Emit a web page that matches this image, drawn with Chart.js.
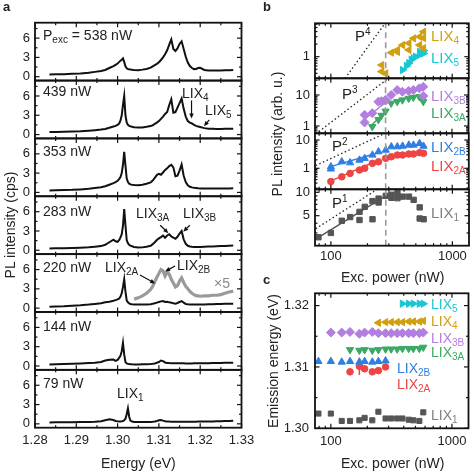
<!DOCTYPE html>
<html>
<head>
<meta charset="utf-8">
<script src="https://cdn.jsdelivr.net/npm/chart.js@4.4.0/dist/chart.umd.min.js"></script>
<style>
    body { margin: 0; background: #fff; }
    #fig { position: relative; width: 474px; height: 474px; overflow: hidden; font-family: "Liberation Sans", Arial, sans-serif; color: #222; }
    #fig canvas { position: absolute; left: 0; top: 0; }
    .t { position: absolute; white-space: nowrap; font-size: 14px; line-height: 14px; }
    .t sub { font-size: 10px; line-height: 0; vertical-align: -3px; }
    .t sup { font-size: 10px; line-height: 0; vertical-align: 6px; }
    .b { font-size: 15px; line-height: 15px; }
    .lbl { font-weight: bold; font-size: 13px; line-height: 13px; }
    .rot { width: 200px; text-align: center; transform: rotate(-90deg); }
</style>
</head>
<body>
<div id="fig">
    <div class="t lbl" style="left:3px;top:0px">a</div>
    <div class="t lbl" style="left:263px;top:0px">b</div>
    <div class="t lbl" style="left:263px;top:273px">c</div>

    <!-- panel a texts -->
    <div class="t" style="left:43px;top:28px">P<sub>exc</sub> = 538 nW</div>
    <div class="t" style="left:43px;top:84px">439 nW</div>
    <div class="t" style="left:43px;top:144px">353 nW</div>
    <div class="t" style="left:43px;top:204px">283 nW</div>
    <div class="t" style="left:43px;top:260px">220 nW</div>
    <div class="t" style="left:43px;top:319px">144 nW</div>
    <div class="t" style="left:43px;top:376px">79 nW</div>
    <div class="t" style="left:182px;top:86px">LIX<sub>4</sub></div>
    <div class="t" style="left:205px;top:103px">LIX<sub>5</sub></div>
    <div class="t" style="left:136px;top:206px">LIX<sub>3A</sub></div>
    <div class="t" style="left:183px;top:206px">LIX<sub>3B</sub></div>
    <div class="t" style="left:105px;top:260px">LIX<sub>2A</sub></div>
    <div class="t" style="left:177px;top:258px">LIX<sub>2B</sub></div>
    <div class="t" style="left:214px;top:276px;color:#888">×5</div>
    <div class="t" style="left:117px;top:386px">LIX<sub>1</sub></div>
    <div class="t rot" style="left:-90px;top:218px">PL intensity (cps)</div>
    <div class="t" style="left:101px;top:456px">Energy (eV)</div>

    <!-- panel b texts -->
    <div class="t b" style="left:355px;top:28px">P<sup>4</sup></div>
    <div class="t b" style="left:342px;top:86px">P<sup>3</sup></div>
    <div class="t b" style="left:332px;top:138px">P<sup>2</sup></div>
    <div class="t b" style="left:332px;top:195px">P<sup>1</sup></div>
    <div class="t b" style="left:431px;top:28px;color:#D1A00E">LIX<sub>4</sub></div>
    <div class="t b" style="left:431px;top:50px;color:#1BC5D1">LIX<sub>5</sub></div>
    <div class="t b" style="left:431px;top:88px;color:#B27FE0">LIX<sub>3B</sub></div>
    <div class="t b" style="left:431px;top:105px;color:#3BA865">LIX<sub>3A</sub></div>
    <div class="t b" style="left:431px;top:139px;color:#2F7FE3">LIX<sub>2B</sub></div>
    <div class="t b" style="left:431px;top:158px;color:#EE4444">LIX<sub>2A</sub></div>
    <div class="t b" style="left:431px;top:205px;color:#808080">LIX<sub>1</sub></div>
    <div class="t rot" style="left:177px;top:127px">PL intensity (arb. u.)</div>
    <div class="t" style="left:341px;top:270px">Exc. power (nW)</div>

    <!-- panel c texts -->
    <div class="t" style="left:431px;top:297px;color:#1BC5D1">LIX<sub>5</sub></div>
    <div class="t" style="left:431px;top:314px;color:#D1A00E">LIX<sub>4</sub></div>
    <div class="t" style="left:431px;top:331px;color:#B27FE0">LIX<sub>3B</sub></div>
    <div class="t" style="left:431px;top:345px;color:#3BA865">LIX<sub>3A</sub></div>
    <div class="t" style="left:397px;top:361px;color:#2F7FE3">LIX<sub>2B</sub></div>
    <div class="t" style="left:397px;top:377px;color:#EE4444">LIX<sub>2A</sub></div>
    <div class="t" style="left:431px;top:408px;color:#808080">LIX<sub>1</sub></div>
    <div class="t rot" style="left:173px;top:354px">Emission energy (eV)</div>
    <div class="t" style="left:341px;top:456px">Exc. power (nW)</div>
</div>

<script>
/* ---------- panel a: PL spectra (cps) on a shared energy grid (eV) ---------- */
const energy = [1.2835, 1.285, 1.287, 1.289, 1.291, 1.293, 1.2945, 1.296, 1.297, 1.298,
    1.299, 1.2995, 1.3, 1.3004, 1.3007, 1.301, 1.3013, 1.3016, 1.3019, 1.3022,
    1.3025, 1.3028, 1.3031, 1.3035, 1.304, 1.305, 1.306, 1.307, 1.308, 1.3085,
    1.309, 1.3095, 1.31, 1.3105, 1.311, 1.3115, 1.312, 1.3125, 1.313, 1.3135,
    1.314, 1.3145, 1.315, 1.3155, 1.316, 1.3165, 1.317, 1.3175, 1.318, 1.3185,
    1.319, 1.3195, 1.32, 1.321, 1.322, 1.323, 1.324, 1.325, 1.326, 1.327, 1.328];

const spec538 = [0.36, 0.37, 0.4, 0.44, 0.5, 0.6, 0.75, 0.9, 1.05, 1.35,
    1.65, 1.85, 2.05, 2.3, 2.5, 2.65, 2.85, 2.3, 1.6, 1.3,
    1.2, 1.15, 1.12, 1.08, 1.05, 1.02, 1.1, 1.2, 1.4, 1.6,
    1.8, 2.0, 2.25, 2.6, 3.0, 3.5, 4.1, 5.0, 5.8, 4.3,
    4.0, 4.4, 5.1, 5.5, 4.3, 3.1, 2.2, 1.66, 1.35, 1.18,
    1.2, 1.35, 1.38, 1.05, 0.98, 0.96, 0.98, 0.98, 1.0, 1.02, 1.04];
const spec439 = [0.39, 0.4, 0.43, 0.47, 0.52, 0.6, 0.68, 0.78, 0.88, 1.05,
    1.25, 1.35, 1.5, 1.75, 2.2, 3.0, 4.6, 6.0, 3.0, 1.9,
    1.5, 1.35, 1.3, 1.2, 1.15, 1.08, 1.1, 1.2, 1.32, 1.45,
    1.65, 1.85, 2.1, 2.45, 2.8, 3.2, 3.5, 4.6, 5.5, 3.4,
    3.5, 4.2, 4.9, 5.6, 4.0, 2.8, 2.1, 1.85, 1.72, 1.5,
    1.35, 1.25, 1.18, 1.0, 0.92, 0.9, 0.88, 0.88, 0.9, 0.9, 0.92];
const spec353 = [0.31, 0.33, 0.36, 0.4, 0.47, 0.56, 0.68, 0.8, 0.95, 1.2,
    1.45, 1.6, 1.8, 2.1, 2.4, 3.0, 4.3, 6.3, 4.2, 2.2,
    1.6, 1.35, 1.25, 1.2, 1.15, 1.1, 1.2, 1.35, 1.55, 1.85,
    2.25, 2.7, 2.9, 2.75, 3.1, 3.5, 3.75, 4.1, 4.3, 3.9,
    2.5, 2.6, 3.4, 4.35, 2.6, 1.6, 1.1, 0.88, 0.78, 0.72,
    0.68, 0.64, 0.62, 0.6, 0.6, 0.6, 0.6, 0.6, 0.62, 0.62, 0.63];
const spec283 = [0.29, 0.3, 0.32, 0.35, 0.4, 0.47, 0.55, 0.65, 0.85, 1.25,
    1.65, 1.4, 1.3, 1.6, 2.0, 2.5, 3.8, 6.4, 3.9, 1.6,
    1.1, 0.85, 0.72, 0.62, 0.52, 0.42, 0.45, 0.55, 0.7, 0.95,
    1.25, 1.6, 1.85, 2.05, 2.3, 1.95, 2.3, 2.5, 2.15, 1.95,
    1.8, 2.1, 2.6, 3.0, 1.7, 1.0, 0.7, 0.58, 0.54, 0.52,
    0.5, 0.5, 0.52, 0.54, 0.57, 0.6, 0.62, 0.65, 0.68, 0.72, 0.75];
const spec220 = [0.22, 0.25, 0.3, 0.38, 0.45, 0.55, 0.65, 0.75, 0.9, 1.0,
    1.15, 1.25, 1.35, 1.5, 1.8, 2.3, 3.3, 4.5, 2.6, 1.2,
    0.9, 0.75, 0.65, 0.6, 0.58, 0.55, 0.55, 0.58, 0.62, 0.68,
    0.75, 0.85, 0.95, 1.05, 1.1, 0.95, 1.0, 0.9, 0.85, 0.75,
    0.7, 0.8, 0.95, 1.1, 0.85, 0.65, 0.6, 0.58, 0.56, 0.55,
    0.55, 0.55, 0.56, 0.58, 0.6, 0.62, 0.64, 0.66, 0.68, 0.7, 0.7];
const spec220x5 = [null, null, null, null, null, null, null, null, null, null,
    null, null, null, null, null, null, null, null, null, null,
    null, null, null, null, 1.4, 1.6, 1.9, 2.3, 2.9, 3.4,
    4.1, 4.8, 5.4, 6.0, 5.8, 5.0, 5.6, 5.3, 4.5, 3.9,
    3.3, 3.5, 4.2, 4.7, 4.0, 3.4, 3.0, 2.6, 2.3, 2.1,
    1.95, 1.9, 1.85, 1.9, 1.9, 2.0, 2.0, 2.1, 2.3, 2.5, 2.65];
const spec144 = [0.24, 0.26, 0.29, 0.33, 0.38, 0.45, 0.52, 0.62, 0.85, 0.98,
    1.0, 0.8, 0.95, 1.3, 1.6, 2.3, 3.6, 1.8, 0.6, 0.4,
    0.33, 0.3, 0.28, 0.26, 0.25, 0.25, 0.26, 0.28, 0.31, 0.34,
    0.4, 0.5, 0.62, 0.85, 0.75, 0.55, 0.48, 0.45, 0.43, 0.42,
    0.42, 0.42, 0.43, 0.42, 0.41, 0.4, 0.4, 0.4, 0.4, 0.41,
    0.41, 0.42, 0.42, 0.43, 0.44, 0.45, 0.46, 0.47, 0.49, 0.5, 0.51];
const spec79 = [0.22, 0.23, 0.24, 0.25, 0.27, 0.3, 0.33, 0.4, 0.55, 0.7,
    0.6, 0.45, 0.4, 0.38, 0.38, 0.4, 0.45, 0.55, 0.8, 1.5,
    2.4, 1.1, 0.5, 0.35, 0.3, 0.27, 0.27, 0.28, 0.3, 0.32,
    0.38, 0.45, 0.55, 0.6, 0.5, 0.42, 0.38, 0.35, 0.33, 0.32,
    0.32, 0.32, 0.32, 0.32, 0.32, 0.32, 0.32, 0.33, 0.33, 0.34,
    0.34, 0.35, 0.35, 0.36, 0.37, 0.38, 0.4, 0.42, 0.44, 0.46, 0.48];

const spectra = [spec538, spec439, spec353, spec283, spec220, spec144, spec79];
const energyTicks = [1.28, 1.29, 1.30, 1.31, 1.32, 1.33];
const intensityTicks = [0, 3, 6];

/* ---------- panel b: integrated intensity (arb. u.) vs excitation power (nW) ---------- */
const lix4Pow = [262, 262, 283, 315, 353, 353, 390, 439, 439, 480, 538, 538, 580, 580, 580];
const lix4Int = [0.63, 0.44, 0.40, 1.25, 1.3, 1.45, 1.9, 2.1, 1.45, 2.75, 3.0, 1.9, 3.96, 2.8, 1.6];
const lix5Pow = [390, 420, 439, 460, 480, 500, 538, 538, 580, 580];
const lix5Int = [0.48, 0.6, 0.7, 0.85, 0.92, 1.0, 1.1, 1.3, 1.2, 1.4];
const lix3bPow = [190, 190, 220, 247, 262, 283, 283, 315, 353, 390, 439, 480, 538, 580, 580];
const lix3bInt = [2.3, 1.3, 2.6, 6.1, 6.3, 6.6, 7.0, 10, 14.5, 12.8, 13.5, 14.5, 16.4, 18.5, 9.3];
const lix3aPow = [220, 247, 262, 283, 315, 353, 390, 439, 480, 538, 580, 580];
const lix3aInt = [0.95, 1.6, 2.2, 3.0, 5.4, 6.1, 6.9, 7.8, 8.4, 8.8, 8.4, 6.1];
const lix2bPow = [100, 100, 123, 144, 172, 190, 220, 247, 283, 315, 353, 390, 439, 480, 538, 580];
const lix2bInt = [1.14, 0.95, 1.71, 1.58, 1.96, 2.25, 2.95, 3.86, 4.4, 5.8, 5.8, 6.1, 6.65, 6.65, 7.6, 6.1];
const lix2aPow = [100, 123, 144, 172, 190, 220, 247, 283, 315, 353, 390, 439, 480, 538, 580];
const lix2aInt = [0.34, 0.5, 0.66, 0.87, 1.0, 1.5, 1.7, 2.25, 2.57, 2.95, 2.95, 3.2, 3.2, 3.56, 3.4];
const lix1Pow = [79, 100, 123, 144, 172, 172, 190, 220, 220, 247, 247, 283, 315, 315, 353, 353, 390, 439, 480, 538, 538, 580];
const lix1Int = [2.64, 3.0, 4.3, 4.8, 5.6, 4.4, 6.5, 7.7, 4.5, 8.3, 7.4, 9.0, 9.3, 8.5, 9.7, 8.4, 8.8, 8.8, 8.0, 6.4, 4.6, 4.5];

// power-law guides (dotted) and fits (solid): end points
const p4Pow = [131, 285], p4Int = [0.304, 6.8];
const p3Pow = [75, 290], p3Int = [0.55, 31.8];
const p2Pow = [75, 285], p2Int = [1.25, 18];
const p1Pow = [75, 300], p1Int = [3.4, 13.6];
const fit3bPow = [185, 290], fit3bInt = [1.5, 6.2];
const fit3aPow = [210, 290], fit3aInt = [0.95, 3.2];
const fit2bPow = [96, 250], fit2bInt = [1.1, 3.6];
const fit2aPow = [96, 250], fit2aInt = [0.33, 2.0];
const fit1Pow = [75, 283], fit1Int = [2.5, 9.0];
const thresholdPow = 283;
const powerTicks = [100, 1000];

/* ---------- panel c: emission energy (eV) vs excitation power (nW) ---------- */
const powerC = [79, 100, 123, 144, 172, 190, 220, 247, 283, 315, 353, 390, 439, 480, 538, 580];
const e1 = [1.3024, 1.3024, 1.3012, 1.3012, 1.3013, 1.3017, 1.3013, 1.3027, 1.3016, 1.3016, 1.3016, 1.3016, 1.3014, 1.3013, 1.3012, 1.3026];
const e2b = [1.3109, 1.3109, 1.3108, 1.3109, 1.3108, 1.3109, 1.3108, 1.3109, 1.311, null, null, null, null, null, null, null];
const e2a = [null, null, null, 1.3092, 1.3101, 1.3097, 1.3092, 1.3094, 1.31, null, null, null, null, null, null, null];
const e2aErr = [0, 0, 0, 0.0003, 0.0014, 0.0004, 0.0002, 0.0003, 0.0004, 0, 0, 0, 0, 0, 0, 0];
const e3a = [null, null, null, 1.3128, 1.3127, 1.3128, 1.3127, 1.3128, 1.3129, 1.3129, 1.3129, 1.313, 1.313, 1.313, 1.313, 1.3132];
const e3b = [null, 1.3156, 1.3156, 1.3157, 1.3154, 1.3156, 1.3157, 1.3155, 1.3155, 1.3155, 1.3155, 1.3155, 1.3155, 1.3155, 1.3155, 1.3156];
const e4 = [null, null, null, null, null, null, null, 1.3172, 1.3173, 1.3173, 1.3173, 1.3173, 1.3174, 1.3174, 1.3174, 1.3175];
const e5 = [null, null, null, null, null, null, null, null, null, null, null, 1.3203, 1.3203, 1.3203, 1.3203, 1.3203];
const emissionTicks = [1.30, 1.31, 1.32];

/* colours */
const C = {
    lix4: '#D1A00E', lix5: '#1BC5D1', lix3b: '#B27FE0', lix3a: '#3BA865',
    lix2b: '#2F7FE3', lix2a: '#EE4444', lix1: '#555555'
};

const fig = document.getElementById('fig');

/**
 * Pair x and y arrays into chart points, skipping gaps
 */
function toXY(xs, ys) {
    const pts = [];
    xs.forEach((x, i) => { if (ys[i] !== null && ys[i] !== undefined) pts.push({ x, y: ys[i] }); });
    return pts;
}

/**
 * Frame with inward tick marks on all four sides
 */
const framePlugin = {
    id: 'frame',
    afterDatasetsDraw(chart, args, o) {
        const { ctx, chartArea: a, scales: { x, y } } = chart;
        ctx.save();
        ctx.strokeStyle = '#111';
        ctx.lineWidth = 1.2;
        const seg = (x1, y1, x2, y2) => { ctx.beginPath(); ctx.moveTo(x1, y1); ctx.lineTo(x2, y2); ctx.stroke(); };
        const xt = (vals, len) => (vals || []).forEach(v => {
            const px = x.getPixelForValue(v);
            seg(px, a.bottom, px, a.bottom - len);
            seg(px, a.top, px, a.top + len);
        });
        const yt = (vals, len) => (vals || []).forEach(v => {
            const py = y.getPixelForValue(v);
            seg(a.left, py, a.left + len, py);
            seg(a.right, py, a.right - len, py);
        });
        xt(o.xMajor, 4.5); xt(o.xMinor, 2.5);
        yt(o.yMajor, 4.5); yt(o.yMinor, 2.5);
        ctx.lineWidth = 1.8;
        ctx.strokeRect(a.left, a.top, a.width, a.height);
        ctx.restore();
    }
};

/**
 * Annotation arrows given in data coordinates
 */
const arrowPlugin = {
    id: 'arrows',
    afterDatasetsDraw(chart, args, o) {
        if (!o || !o.list) return;
        const { ctx, scales: { x, y } } = chart;
        ctx.save();
        ctx.strokeStyle = '#111';
        ctx.fillStyle = '#111';
        ctx.lineWidth = 1.2;
        o.list.forEach(ar => {
            const x1 = x.getPixelForValue(ar.from[0]), y1 = y.getPixelForValue(ar.from[1]);
            const x2 = x.getPixelForValue(ar.to[0]), y2 = y.getPixelForValue(ar.to[1]);
            const ang = Math.atan2(y2 - y1, x2 - x1), h = 5.5;
            ctx.beginPath();
            ctx.moveTo(x1, y1);
            ctx.lineTo(x2 - Math.cos(ang) * h * 0.7, y2 - Math.sin(ang) * h * 0.7);
            ctx.stroke();
            ctx.beginPath();
            ctx.moveTo(x2, y2);
            ctx.lineTo(x2 - h * Math.cos(ang - 0.42), y2 - h * Math.sin(ang - 0.42));
            ctx.lineTo(x2 - h * Math.cos(ang + 0.42), y2 - h * Math.sin(ang + 0.42));
            ctx.closePath();
            ctx.fill();
        });
        ctx.restore();
    }
};

/**
 * Vertical error bars for datasets carrying an errorBars array
 */
const errorBarPlugin = {
    id: 'errbars',
    beforeDatasetsDraw(chart) {
        const { ctx, scales: { y } } = chart;
        chart.data.datasets.forEach((ds, i) => {
            if (!ds.errorBars) return;
            const meta = chart.getDatasetMeta(i);
            ctx.save();
            ctx.strokeStyle = ds.borderColor;
            ctx.lineWidth = 1.5;
            meta.data.forEach((pt, j) => {
                const v = ds.data[j].y, e = ds.errorBars[j];
                if (!e) return;
                ctx.beginPath();
                ctx.moveTo(pt.x, y.getPixelForValue(v - e));
                ctx.lineTo(pt.x, y.getPixelForValue(v + e));
                ctx.stroke();
            });
            ctx.restore();
        });
    }
};

/**
 * Axis definition with a fixed gutter (labels are clipped to the axis box)
 */
function axis(s, dir, gutter) {
    return {
        type: s.type || 'linear',
        min: s.min, max: s.max, bounds: 'data',
        grid: { display: false, drawTicks: false },
        border: { display: false },
        ticks: {
            display: !!s.show, padding: s.pad || 4, autoSkip: false, maxRotation: 0,
            color: '#222', font: { size: 13 },
            callback: s.fmt || (v => String(v))
        },
        afterBuildTicks: sc => { sc.ticks = (s.ticks || []).map(v => ({ value: v })); },
        afterFit: sc => { if (dir === 'x') sc.height = gutter; else sc.width = gutter; }
    };
}

/**
 * One full-size transparent canvas per sub-plot
 */
function makeChart(area, datasets, xs, ys, marks, extra) {
    const canvas = document.createElement('canvas');
    canvas.width = 474;
    canvas.height = 474;
    fig.insertBefore(canvas, fig.firstChild);
    const yGut = Math.min(30, area.l - 1);
    const xGut = xs.show ? 24 : 0;
    return new Chart(canvas, {
        type: 'scatter',
        data: { datasets },
        options: {
            responsive: false, animation: false, devicePixelRatio: 1, events: [],
            layout: { padding: { left: area.l - yGut, top: area.t, right: 474 - area.r, bottom: 474 - area.b - xGut } },
            plugins: {
                legend: { display: false }, tooltip: { enabled: false },
                frame: marks, arrows: extra || {}
            },
            scales: { x: axis(xs, 'x', xGut), y: axis(ys, 'y', yGut) }
        },
        plugins: [framePlugin, arrowPlugin, errorBarPlugin]
    });
}

const lineDs = (pts, color, width, dash) => ({
    data: pts, showLine: true, pointRadius: 0, borderColor: color,
    borderWidth: width, borderDash: dash || [], tension: 0
});
const markDs = (pts, color, style, r, rot) => ({
    data: pts, showLine: false, pointStyle: style, pointRadius: r, pointRotation: rot || 0,
    backgroundColor: color, borderColor: color, borderWidth: 1
});

/* ---------- build panel a ---------- */
const aTop = 22.7, aRow = 57.857;
const aArrows = {
    1: [{ from: [1.3179, 5.3], to: [1.3179, 2.5] }, { from: [1.3222, 2.3], to: [1.3209, 1.3] }],
    3: [{ from: [1.3103, 3.9], to: [1.3123, 2.65] }, { from: [1.3175, 3.9], to: [1.3159, 2.9] }],
    4: [{ from: [1.3054, 5.15], to: [1.3091, 3.85] }, { from: [1.3139, 6.55], to: [1.3115, 5.7] }]
};
spectra.forEach((spec, i) => {
    const ds = [];
    if (spec === spec220) ds.push(lineDs(toXY(energy, spec220x5), '#9a9a9a', 3.2));
    ds.push(lineDs(toXY(energy, spec), '#111', 2));
    const last = i === spectra.length - 1;
    makeChart(
        { l: 35, r: 241.5, t: aTop + i * aRow, b: aTop + (i + 1) * aRow },
        ds,
        { min: 1.28, max: 1.33, ticks: energyTicks, show: last, pad: 5, fmt: v => v.toFixed(2) },
        { min: -0.6, max: 8.4, ticks: intensityTicks, show: true, pad: 5 },
        {
            xMajor: energyTicks, xMinor: [1.285, 1.295, 1.305, 1.315, 1.325],
            yMajor: intensityTicks, yMinor: [1.5, 4.5, 7.5]
        },
        aArrows[i] ? { list: aArrows[i] } : {}
    );
});

/* ---------- build panel b ---------- */
const bX = { type: 'logarithmic', min: 74, max: 1370, ticks: powerTicks, pad: 3 };
const bXMarks = { xMajor: powerTicks, xMinor: [80, 90, 200, 300, 400, 500, 600, 700, 800, 900] };
const vline = (lo, hi) => lineDs([{ x: thresholdPow, y: lo }, { x: thresholdPow, y: hi }], '#9a9a9a', 1.6, [6, 4]);
const dotted = (xs, ys) => lineDs(toXY(xs, ys), '#222', 1.3, [1.5, 2.5]);

const bPanels = [
    {
        t: 23.3, b: 78.3, min: 0.304, max: 6.3, ticks: [1],
        yMinor: [0.4, 0.5, 0.6, 0.7, 0.8, 0.9, 2, 3, 4, 5, 6],
        ds: [
            dotted(p4Pow, p4Int),
            markDs(toXY(lix4Pow, lix4Int), C.lix4, 'triangle', 4.2, -90),
            markDs(toXY(lix5Pow, lix5Int), C.lix5, 'triangle', 4.2, 90)
        ]
    },
    {
        t: 78.3, b: 133.3, min: 0.581, max: 34.6, ticks: [1, 10],
        yMinor: [0.6, 0.7, 0.8, 0.9, 2, 3, 4, 5, 6, 7, 8, 9, 20, 30],
        ds: [
            dotted(p3Pow, p3Int),
            markDs(toXY(lix3bPow, lix3bInt), C.lix3b, 'rectRot', 4.5),
            markDs(toXY(lix3aPow, lix3aInt), C.lix3a, 'triangle', 4.2, 180),
            lineDs(toXY(fit3bPow, fit3bInt), C.lix3b, 1.5),
            lineDs(toXY(fit3aPow, fit3aInt), C.lix3a, 1.5)
        ]
    },
    {
        t: 133.3, b: 189.3, min: 0.181, max: 17.3, ticks: [1, 10],
        yMinor: [0.2, 0.3, 0.4, 0.5, 0.6, 0.7, 0.8, 0.9, 2, 3, 4, 5, 6, 7, 8, 9],
        ds: [
            dotted(p2Pow, p2Int),
            markDs(toXY(lix2bPow, lix2bInt), C.lix2b, 'triangle', 4.2),
            markDs(toXY(lix2aPow, lix2aInt), C.lix2a, 'circle', 3.3),
            lineDs(toXY(fit2bPow, fit2bInt), C.lix2b, 1.5),
            lineDs(toXY(fit2aPow, fit2aInt), C.lix2a, 1.5)
        ]
    },
    {
        t: 189.3, b: 245.7, min: 2.055, max: 10.93, ticks: [5, 10],
        yMinor: [3, 4, 6, 7, 8, 9],
        ds: [
            dotted(p1Pow, p1Int),
            markDs(toXY(lix1Pow, lix1Int), C.lix1, 'rect', 3.8),
            lineDs(toXY(fit1Pow, fit1Int), C.lix1, 1.4)
        ]
    }
];
bPanels.forEach((p, i) => {
    makeChart(
        { l: 315, r: 469, t: p.t, b: p.b },
        [vline(p.min, p.max)].concat(p.ds),
        Object.assign({}, bX, { show: i === bPanels.length - 1 }),
        { type: 'logarithmic', min: p.min, max: p.max, ticks: p.ticks, show: true, pad: 5 },
        Object.assign({ yMajor: p.ticks, yMinor: p.yMinor }, bXMarks)
    );
});

/* ---------- build panel c ---------- */
const e2aPts = toXY(powerC, e2a);
const e2aErrs = e2aErr.filter((_, i) => e2a[i] !== null);
const redDs = markDs(e2aPts, C.lix2a, 'circle', 3.3);
redDs.errorBars = e2aErrs;
makeChart(
    { l: 315, r: 469, t: 293.3, b: 428.3 },
    [
        markDs(toXY(powerC, e5), C.lix5, 'triangle', 4.2, 90),
        markDs(toXY(powerC, e4), C.lix4, 'triangle', 4.2, -90),
        markDs(toXY(powerC, e3b), C.lix3b, 'rectRot', 4.5),
        markDs(toXY(powerC, e3a), C.lix3a, 'triangle', 4.2, 180),
        markDs(toXY(powerC, e2b), C.lix2b, 'triangle', 4.2),
        redDs,
        markDs(toXY(powerC, e1), C.lix1, 'rect', 3.6)
    ],
    Object.assign({}, bX, { show: true, pad: 5 }),
    { min: 1.30, max: 1.3220, ticks: emissionTicks, show: true, pad: 6, fmt: v => v.toFixed(2) },
    Object.assign({ yMajor: emissionTicks, yMinor: [1.305, 1.315] }, bXMarks)
);
</script>
</body>
</html>
